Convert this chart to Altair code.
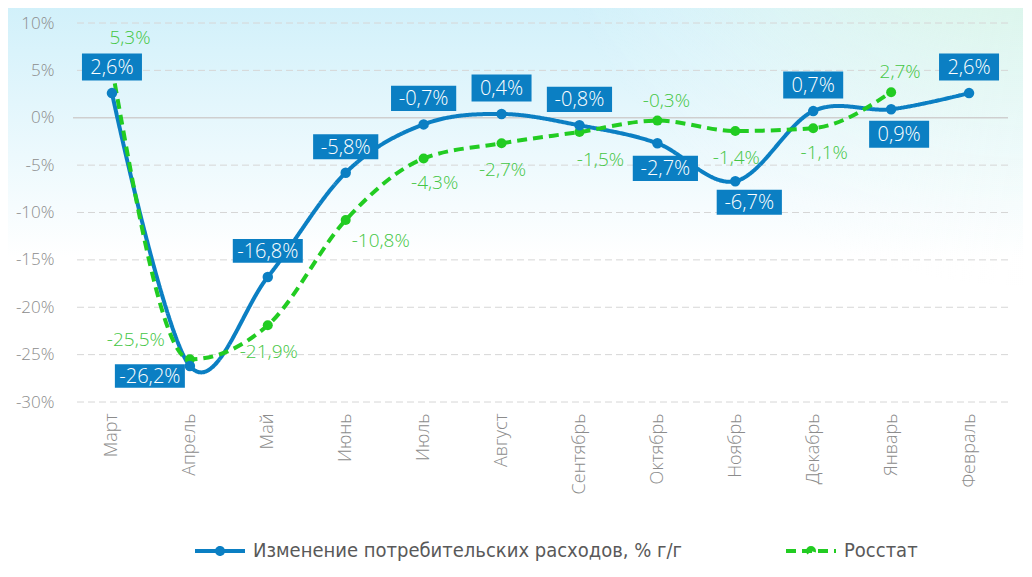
import altair as alt
import pandas as pd

# ---------------- data ----------------
CATS = ["Март", "Апрель", "Май", "Июнь", "Июль", "Август", "Сентябрь",
        "Октябрь", "Ноябрь", "Декабрь", "Январь", "Февраль"]
SPEND = [2.6, -26.2, -16.8, -5.8, -0.7, 0.4, -0.8, -2.7, -6.7, 0.7, 0.9, 2.6]
ROSSTAT = [5.3, -25.5, -21.9, -10.8, -4.3, -2.7, -1.5, -0.3, -1.4, -1.1, 2.7, None]
Y_TICKS = [10, 5, 0, -5, -10, -15, -20, -25, -30]
S1 = "Изменение потребительских расходов, % г/г"
S2 = "Росстат"

# ---------------- style ----------------
BLUE = "#0b7fc3"
GREEN = "#22cc22"
GREEN_TXT = "#44c644"
GRAY = "#8c8c8c"
FONT = "Open Sans"
LFONT = "Liberation Sans Narrow, DejaVu Sans Condensed, sans-serif"
W, H = 935, 379

rows = []
for i, c in enumerate(CATS):
    rows.append({"cat": c, "series": S1, "v": SPEND[i]})
    if ROSSTAT[i] is not None:
        rows.append({"cat": c, "series": S2, "v": ROSSTAT[i]})
df = pd.DataFrame(rows)

yscale = alt.Scale(domain=[-30, 10], nice=False, zero=False)
yaxis = alt.Axis(title=None, values=Y_TICKS, labelExpr="datum.value + '%'",
                 grid=False, ticks=False, domain=False, labelFont=FONT,
                 labelFontSize=17, labelFontWeight=300, labelColor=GRAY,
                 labelPadding=19, zindex=1)
X = alt.X("cat:N", scale=alt.Scale(domain=CATS), sort=CATS,
          axis=alt.Axis(title=None, labelAngle=-90, ticks=False, domain=False,
                        labelFont=FONT, labelFontSize=18, labelFontWeight=300,
                        labelColor=GRAY, labelPadding=11, zindex=1))
Y = alt.Y("v:Q", scale=yscale, axis=yaxis)

# ---------------- background ----------------
bgdata = pd.DataFrame({"a": [0]})
bg_lin = alt.Chart(bgdata).mark_rect(fill={
    "gradient": "linear", "x1": 0, "y1": 0, "x2": 0, "y2": 1,
    "stops": [{"offset": 0, "color": "#d0f0fa"},
              {"offset": 0.45, "color": "#ffffff"},
              {"offset": 1, "color": "#ffffff"}]}).encode(
    x=alt.value(-73), x2=alt.value(W + 20), y=alt.value(-23), y2=alt.value(H + 170))
bg_rad = alt.Chart(bgdata).mark_rect(fill={
    "gradient": "radial", "x1": 1, "y1": 0, "r1": 0, "x2": 1, "y2": 0, "r2": 0.5,
    "stops": [{"offset": 0, "color": "rgba(210,247,200,1)"},
              {"offset": 1, "color": "rgba(255,255,255,0)"}]}).encode(
    x=alt.value(-73), x2=alt.value(W + 20), y=alt.value(-23), y2=alt.value(H + 170))

# ---------------- grid ----------------
grid_df = pd.DataFrame({"t": Y_TICKS})
grid = alt.Chart(grid_df).transform_filter("datum.t != 0").mark_rule(
    color="#d6d6d6", strokeDash=[7, 4], strokeWidth=1).encode(
    y=alt.Y("t:Q", scale=yscale, axis=yaxis))
zero = alt.Chart(grid_df).transform_filter("datum.t == 0").mark_rule(
    color="#cfcfcf", strokeWidth=1.5).encode(y=alt.Y("t:Q", scale=yscale))

# ---------------- lines ----------------
LAB = "replace(replace(format(datum.v, '.1f'), '.', ','), '\u2212', '-') + '%'"
base = alt.Chart(df).transform_calculate(lab=LAB).transform_calculate(
    n="length(datum.lab)")

LEG_PATH = ("M-1,0L1,0M-0.12,0A0.12,0.12,0,1,1,0.12,0"
            "A0.12,0.12,0,1,1,-0.12,0")
legend = alt.Legend(title=None, orient="none", legendX=120, legendY=501,
                    direction="horizontal", symbolType=LEG_PATH, symbolSize=2500,
                    symbolStrokeWidth=4, labelFont=LFONT, labelFontSize=20,
                    labelColor="#595959", columnPadding=95, labelLimit=700,
                    labelOffset=6)

blue = base.transform_filter(alt.datum.series == S1)
green = base.transform_filter(alt.datum.series == S2)

color_enc = alt.Color("series:N", scale=alt.Scale(domain=[S1, S2], range=[BLUE, GREEN]),
                      legend=legend)
dash_enc = alt.StrokeDash("series:N",
                          scale=alt.Scale(domain=[S1, S2], range=[[1, 0], [10, 6]]),
                          legend=legend)

line_b = blue.mark_line(strokeWidth=4, interpolate="cardinal").encode(
    x=X, y=Y, color=color_enc, strokeDash=dash_enc)
line_g = green.mark_line(strokeWidth=4, interpolate="monotone").encode(
    x=X, y=Y, color=color_enc, strokeDash=dash_enc)

pts_g = green.mark_point(filled=True, opacity=1, size=100, color=GREEN).encode(x=X, y=Y)
pts_b = blue.mark_point(filled=True, opacity=1, size=110, color=BLUE).encode(x=X, y=Y)

# ---------------- labels ----------------
BOX_W = {4: 60, 5: 70, 6: 80}
BOX_H = 27
box_paths = []
box_sizes = []
for n in [4, 5, 6]:
    w = BOX_W[n]
    a = BOX_H / w
    box_paths.append(f"M-1,-{a:.4f}L1,-{a:.4f}L1,{a:.4f}L-1,{a:.4f}Z")
    box_sizes.append(w * w)

BLUE_GROUPS = [
    (["Март", "Май", "Июнь", "Июль", "Август", "Сентябрь", "Декабрь", "Февраль"], 0, -26),
    (["Октябрь", "Январь"], 8, 25),
    (["Ноябрь"], 14, 21),
    (["Апрель"], -40, 10),
]
GREEN_GROUPS = [
    (["Март"], 18, -30),
    (["Октябрь", "Январь"], 9, -20),
    (["Апрель"], -54, -19),
    (["Июнь"], 35, 21),
    (["Май", "Август", "Ноябрь"], 1, 27),
    (["Июль", "Декабрь"], 11, 25),
    (["Сентябрь"], 21, 28),
]

label_layers = []
for cats, dx, dy in GREEN_GROUPS:
    sel = green.transform_filter(alt.FieldOneOfPredicate(field="cat", oneOf=cats))
    label_layers.append(sel.mark_text(color=GREEN_TXT, font=FONT, fontSize=19,
                                      fontWeight=300, xOffset=dx, yOffset=dy,
                                      baseline="middle")
                        .encode(x=X, y=Y, text="lab:N"))
for cats, dx, dy in BLUE_GROUPS:
    sel = blue.transform_filter(alt.FieldOneOfPredicate(field="cat", oneOf=cats))
    label_layers.append(sel.mark_point(filled=True, opacity=1, strokeWidth=0,
                                       color=BLUE, xOffset=dx, yOffset=dy).encode(
        x=X, y=Y,
        shape=alt.Shape("n:O", scale=alt.Scale(domain=[4, 5, 6], range=box_paths), legend=None),
        size=alt.Size("n:O", scale=alt.Scale(domain=[4, 5, 6], range=box_sizes), legend=None)))
    label_layers.append(sel.mark_text(color="white", font=FONT, fontSize=20,
                                      fontWeight=300, xOffset=dx, yOffset=dy + 1,
                                      baseline="middle")
                        .encode(x=X, y=Y, text="lab:N"))

chart = alt.layer(bg_lin, bg_rad, grid, zero, line_b, line_g, pts_g, pts_b,
                  *label_layers).properties(
    width=W, height=H,
    autosize=alt.AutoSizeParams(type="none"),
    padding={"left": 65, "top": 15, "right": 15, "bottom": 160},
).configure_view(stroke=None).configure(background="#ffffff")

chart.save("out.html", embed_options={"renderer": "svg", "actions": False})
